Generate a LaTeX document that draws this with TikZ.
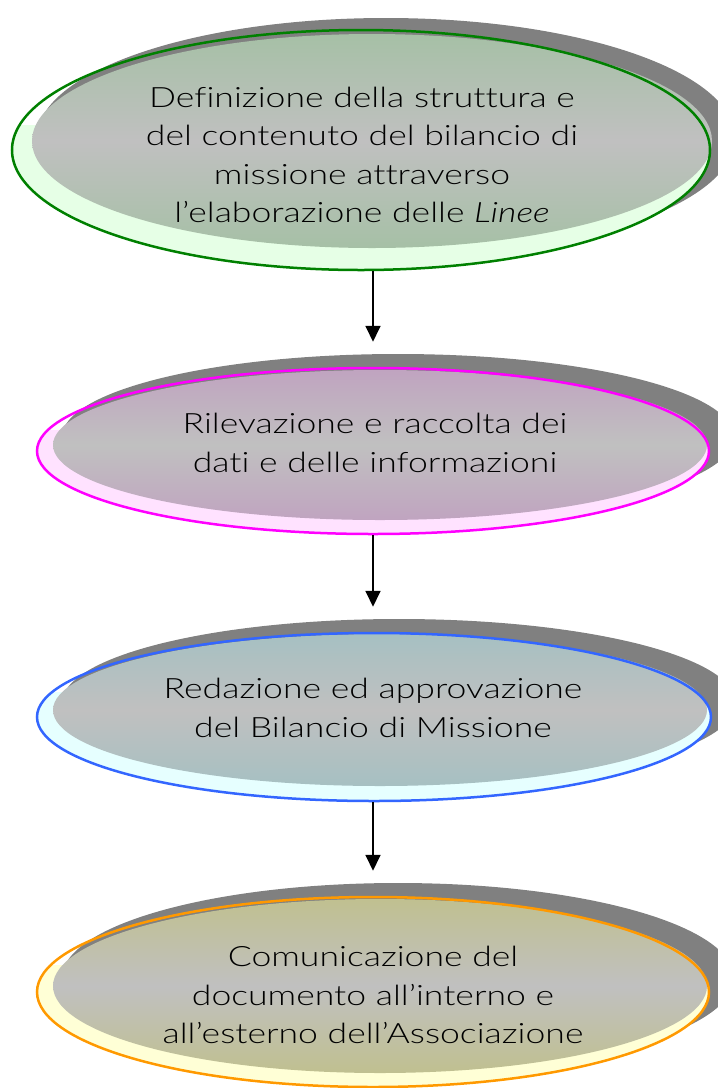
\documentclass[tikz,border=0pt]{standalone}
\usepackage{fontspec}
\setmainfont{Lato Light}[FakeStretch=1.27, Ligatures=NoCommon, ItalicFont={Lato Light Italic}]
\usetikzlibrary{shapes.geometric,arrows.meta}
\definecolor{shadowgray}{RGB}{128,128,128}
\definecolor{midgray}{RGB}{192,192,192}
\definecolor{gline}{RGB}{0,128,0}
\definecolor{gtop}{RGB}{166,192,166}
\definecolor{glight}{RGB}{230,255,230}
\definecolor{pline}{RGB}{255,0,255}
\definecolor{ptop}{RGB}{192,164,192}
\definecolor{plight}{RGB}{255,226,255}
\definecolor{bline}{RGB}{51,102,255}
\definecolor{btop}{RGB}{166,192,194}
\definecolor{blight}{RGB}{230,255,255}
\definecolor{oline}{RGB}{255,153,0}
\definecolor{otop}{RGB}{192,192,144}
\definecolor{olight}{RGB}{255,255,214}
\tikzset{
  outline/.style={ellipse, inner sep=0pt, line width=2.5pt},
  label text/.style={align=center, font=\fontsize{28}{38.5}\selectfont, text=black},
  flowarrow/.style={line width=1.8pt, -{Triangle[length=16pt,width=15pt]}, shorten >=25pt},
}
\begin{document}
\begin{tikzpicture}[x=1pt,y=-1pt]
\useasboundingbox (0,0) rectangle (718,1088);

% ---------- stage 1 ----------
\fill[shadowgray] (386,138) ellipse [x radius=349, y radius=120];
\begin{scope}
  \clip (361,150) ellipse [x radius=349, y radius=120];
  \fill[glight] (0,125) rectangle (718,280);
\end{scope}
\shade[top color=gtop, bottom color=gtop, middle color=midgray] (372,141) ellipse [x radius=340, y radius=107];
\node[outline, draw=gline, minimum width=698pt, minimum height=240pt] (e1) at (361,150) {};
\node[label text] (t1) at (362,155) {Definizione della struttura e\\del contenuto del bilancio di\\missione attraverso\\l’elaborazione delle \textit{Linee}};

% ---------- stage 2 ----------
\fill[shadowgray] (398,437) ellipse [x radius=336, y radius=83];
\begin{scope}
  \clip (373,451) ellipse [x radius=336, y radius=83];
  \fill[plight] (0,430) rectangle (718,540);
\end{scope}
\shade[top color=ptop, bottom color=ptop, middle color=midgray] (380,445) ellipse [x radius=327, y radius=75];
\node[outline, draw=pline, minimum width=672pt, minimum height=166pt] (e2) at (373,451) {};
\node[label text] (t2) at (375,443) {Rilevazione e raccolta dei\\dati e delle informazioni};

% ---------- stage 3 ----------
\fill[shadowgray] (399,703) ellipse [x radius=337, y radius=84];
\begin{scope}
  \clip (374,717) ellipse [x radius=337, y radius=84];
  \fill[blight] (0,692) rectangle (718,806);
\end{scope}
\shade[top color=btop, bottom color=btop, middle color=midgray] (380,710) ellipse [x radius=327, y radius=76];
\node[outline, draw=bline, minimum width=674pt, minimum height=168pt] (e3) at (374,717) {};
\node[label text] (t3) at (373,708) {Redazione ed approvazione\\del Bilancio di Missione};

% ---------- stage 4 ----------
\fill[shadowgray] (398,978) ellipse [x radius=336, y radius=95];
\begin{scope}
  \clip (373,992) ellipse [x radius=336, y radius=95];
  \fill[olight] (0,965) rectangle (718,1095);
\end{scope}
\shade[top color=otop, bottom color=otop, middle color=midgray] (380,986) ellipse [x radius=327, y radius=87];
\node[outline, draw=oline, minimum width=672pt, minimum height=190pt] (e4) at (373,992) {};
\node[label text] (t4) at (373,995) {Comunicazione del\\documento all’interno e\\all’esterno dell’Associazione};

% ---------- connectors ----------
\draw[flowarrow] (e2.north |- e1.south) -- (e2.north);
\draw[flowarrow] (e2.south) -- (e2.south |- e3.north);
\draw[flowarrow] (e2.south |- e3.south) -- (e2.south |- e4.north);
\end{tikzpicture}
\end{document}
